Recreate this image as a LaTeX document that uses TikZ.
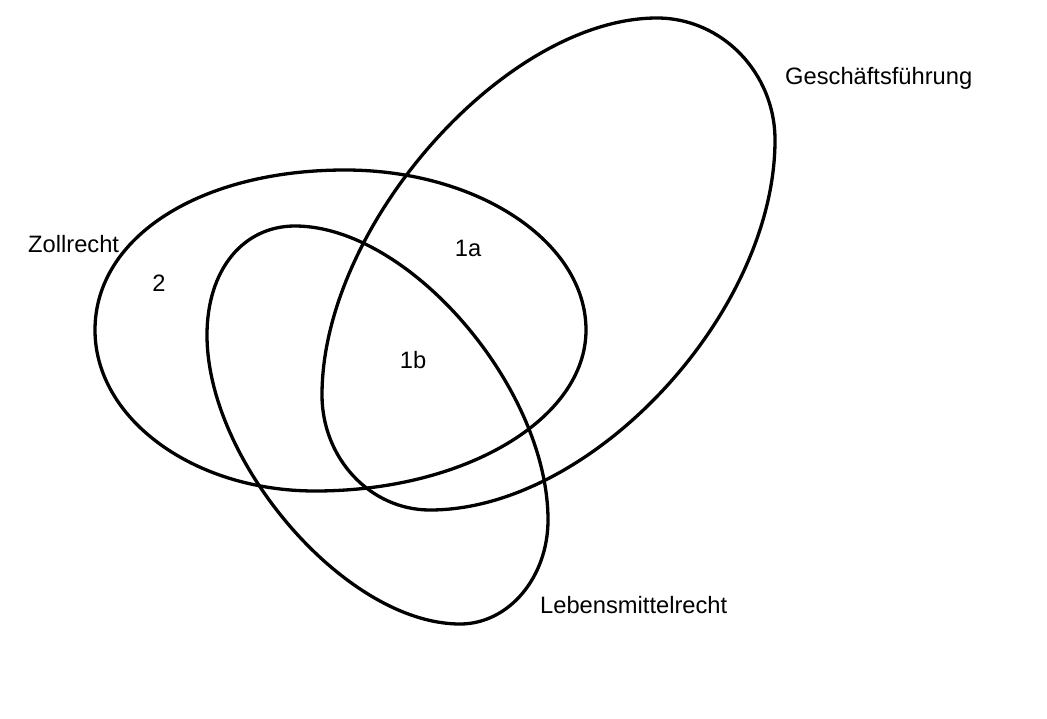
\documentclass[tikz,border=0pt]{standalone}
\usepackage{fontspec}
\setmainfont{Liberation Sans}
\begin{document}
\begin{tikzpicture}[x=1pt,y=-1pt,
  setline/.style={line width=3.3pt, black, line join=round},
  lbl/.style={font=\fontsize{23.7}{28}\selectfont, inner sep=0pt, anchor=base west},
  num/.style={font=\fontsize{23.7}{28}\selectfont, inner sep=0pt, anchor=base}]
\useasboundingbox (0,0) rectangle (1047,718);
% Zollrecht
\draw[setline] (95,330) .. controls (95,237) and (200,170) .. (345,170)
  .. controls (478,170) and (586,242) .. (586,330)
  .. controls (586,419) and (465,491) .. (315,491)
  .. controls (194,491) and (95,419) .. cycle;
% Lebensmittelrecht
\draw[setline] (295,226) .. controls (409,226) and (548,388) .. (548,520)
  .. controls (548,577) and (509,624) .. (460,624)
  .. controls (346,624) and (207,462) .. (207,335)
  .. controls (207,270) and (243,226) .. cycle;
% Geschaeftsfuehrung
\draw[setline] (657,18) .. controls (722,18) and (775,73) .. (775,140)
  .. controls (775,313) and (592,510) .. (430,510)
  .. controls (370,510) and (322,458) .. (322,395)
  .. controls (322,225) and (506,18) .. cycle;
\node[lbl] (zl) at (28,252) {Zollrecht};
\node[lbl] (gl) at (785,84) {Geschäftsführung};
\node[lbl] (ll) at (540,613) {Lebensmittelrecht};
\node[num] (n2) at (159,291) {2};
\node[num] (n1a) at (468,256) {1a};
\node[num] (n1b) at (413,368) {1b};
\end{tikzpicture}
\end{document}
